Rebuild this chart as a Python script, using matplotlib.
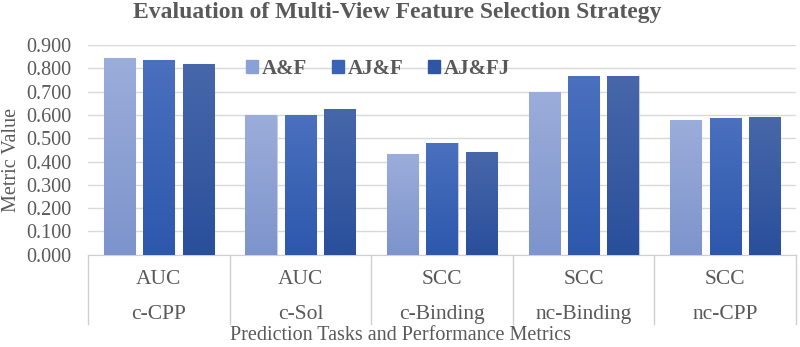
import matplotlib
matplotlib.use("Agg")
import matplotlib.pyplot as plt
import numpy as np
from matplotlib.colors import LinearSegmentedColormap

plt.rcParams['font.family'] = ['Liberation Serif', 'DejaVu Serif']

# data
tasks = ["c-CPP", "c-Sol", "c-Binding", "nc-Binding", "nc-CPP"]
metrics = ["AUC", "AUC", "SCC", "SCC", "SCC"]
series_names = ["A&F", "AJ&F", "AJ&FJ"]
af = [0.843, 0.600, 0.432, 0.697, 0.580]
ajf = [0.834, 0.600, 0.480, 0.767, 0.587]
ajfj = [0.818, 0.627, 0.442, 0.768, 0.590]

# (top colour, bottom colour) for the bar gradients
grads = [("#9badda", "#7d94cc"), ("#4a70be", "#2d58ad"), ("#4767a9", "#2a4f9b")]
legend_colors = ["#8ba1d6", "#3a63b6", "#2f56a3"]
text_col = "#595959"

fig = plt.figure(figsize=(8, 3.47), dpi=100)
ax = fig.add_axes([0.11, 0.266, 0.885, 0.604])

x = np.arange(len(tasks))
w = 0.22
step = 0.278
for i, vals in enumerate([af, ajf, ajfj]):
    bars = ax.bar(x + (i - 1) * step, vals, w, color=legend_colors[i],
                  label=series_names[i], zorder=3,
                  edgecolor="#c9cdd6", linewidth=0.8)
    cmap = LinearSegmentedColormap.from_list("g%d" % i, [grads[i][1], grads[i][0]])
    grad = np.linspace(0, 1, 100).reshape(-1, 1)
    for b in bars:
        x0, y0 = b.get_x(), b.get_y()
        im = ax.imshow(grad, cmap=cmap, aspect="auto", origin="lower",
                       extent=[x0, x0 + b.get_width(), y0, y0 + b.get_height()],
                       zorder=3.5)
        im.set_clip_path(b)

ax.set_xlim(-0.5, len(tasks) - 0.5)
ax.set_ylim(0, 0.9)
ax.set_yticks(np.arange(0, 0.91, 0.1))
ax.set_yticklabels(["%.3f" % v for v in np.arange(0, 0.91, 0.1)],
                   fontsize=14.5, color=text_col)
ax.tick_params(axis="y", length=0, pad=12)
ax.set_xticks([])
ax.yaxis.grid(True, color="#d9d9d9", linewidth=1, zorder=0)
for s in ["left", "right", "top"]:
    ax.spines[s].set_visible(False)
ax.spines["bottom"].set_color("#d0d0d0")

# two-level category axis
trans = ax.get_xaxis_transform()
for k in range(len(tasks) + 1):
    ax.plot([k - 0.5, k - 0.5], [0, -0.33], transform=trans, color="#d0d0d0",
            lw=1, clip_on=False)
for k in range(len(tasks)):
    ax.text(k, -0.118, metrics[k], transform=trans, ha="center", va="center",
            fontsize=15.5, color=text_col)
for k in range(len(tasks)):
    ax.text(k, -0.283, tasks[k], transform=trans, ha="center", va="center",
            fontsize=15.5, color=text_col)

fig.text(0.5, 0.032, "Prediction Tasks and Performance Metrics", ha="center",
         va="center", fontsize=14.5, color=text_col)
fig.text(0.014, 0.54, "Metric Value", rotation=90, ha="center", va="center",
         fontsize=14.5, color=text_col)
fig.text(0.496, 0.963, "Evaluation of Multi-View Feature Selection Strategy",
         ha="center", va="center", fontsize=17, fontweight="bold", color=text_col)

handles = [plt.Rectangle((0, 0), 1, 1, color=c) for c in legend_colors]
leg = ax.legend(handles, series_names, loc="upper center",
                bbox_to_anchor=(0.41, 1.025), ncol=3, frameon=False,
                prop={"weight": "bold", "size": 15}, handlelength=0.55,
                handleheight=0.55, handletextpad=0.2, columnspacing=1.2)
for t in leg.get_texts():
    t.set_color(text_col)

fig.savefig("out.png", dpi=100)
